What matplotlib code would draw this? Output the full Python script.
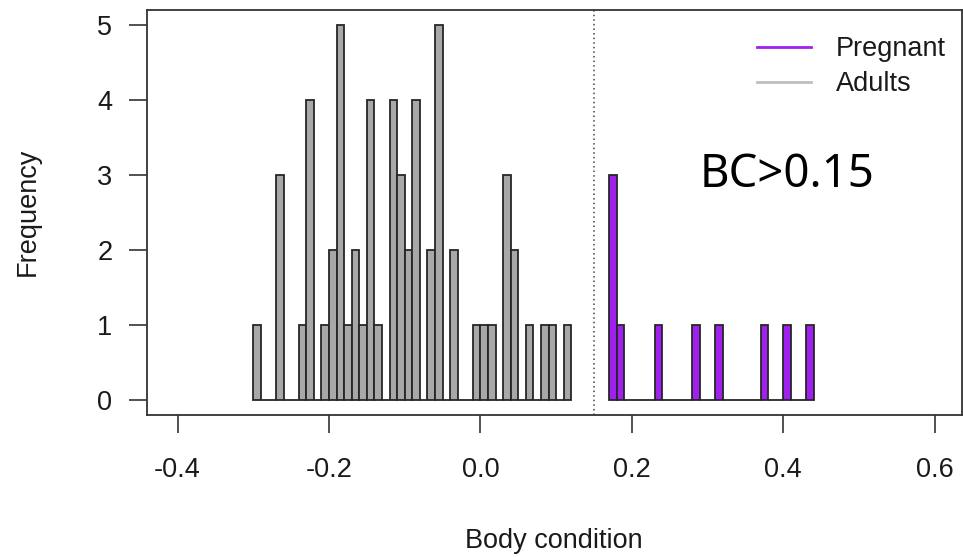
import numpy as np
import matplotlib
matplotlib.use("Agg")
import matplotlib.pyplot as plt
from matplotlib.lines import Line2D

# ---- data ----
bin_width = 0.01
adult_start = -0.30
adult_counts = [1, 0, 0, 3, 0, 0, 1, 4, 0, 1, 2, 5, 1, 2, 1, 4, 1, 0, 4, 3, 2,
                4, 0, 2, 5, 0, 2, 0, 0, 1, 1, 1, 0, 3, 2, 0, 1, 0, 1, 1, 0, 1]
preg_start = 0.17
preg_counts = [3, 1, 0, 0, 0, 0, 1, 0, 0, 0, 0, 1, 0, 0, 1, 0, 0, 0, 0, 0,
               1, 0, 0, 1, 0, 0, 1]
threshold = 0.15
x_ticks = [-0.4, -0.2, 0.0, 0.2, 0.4, 0.6]
x_tick_labels = ["-0.4", "-0.2", "0.0", "0.2", "0.4", "0.6"]
y_ticks = [0, 1, 2, 3, 4, 5]
legend_labels = ["Pregnant", "Adults"]
annotation = "BC>0.15"

W, H = 963, 557
fig = plt.figure(figsize=(W / 100, H / 100), dpi=100)
L, R, T, B = 147, 962, 10, 415
ax = fig.add_axes([L / W, 1 - B / H, (R - L) / W, (B - T) / H])

font = "Liberation Sans"
fs = 19.5
purple = "#A020F0"
grey_fill = "#A8A8A8"
edge = "#262626"
txt = "#1a1a1a"

adult_left = adult_start + bin_width * np.arange(len(adult_counts))
preg_left = preg_start + bin_width * np.arange(len(preg_counts))

ax.bar(adult_left, adult_counts, width=bin_width, align="edge",
       color=grey_fill, edgecolor=edge, linewidth=1.3)
ax.bar(preg_left, preg_counts, width=bin_width, align="edge",
       color=purple, edgecolor=edge, linewidth=1.3)

ax.axvline(threshold, color="#444444", linestyle=(0, (1, 2)), linewidth=1.1)

ax.set_xlim(-0.4404, 0.636)
ax.set_ylim(-0.2, 5.2)

ax.set_xticks(x_ticks)
ax.set_xticklabels(x_tick_labels, fontsize=fs, family=font, color=txt)
ax.set_yticks(y_ticks)
ax.set_yticklabels([str(v) for v in y_ticks], fontsize=fs, family=font,
                   color=txt)
ax.tick_params(axis="x", length=13, width=1.2, color="#333333", pad=17.5)
ax.tick_params(axis="y", length=13, width=1.2, color="#333333", pad=12)
for s in ax.spines.values():
    s.set_color("#333333")
    s.set_linewidth(1.3)

fig.text(28 / W, 1 - 212 / H, "Frequency", rotation=90, ha="center",
         va="center", fontsize=fs, family=font, color=txt)
fig.text(554 / W, 1 - 541 / H, "Body condition", ha="center", va="center",
         fontsize=fs, family=font, color=txt)

fig.text(700 / W, 1 - 187 / H, annotation, ha="left", va="baseline",
         fontsize=32.8, family="Noto Sans", color="black")

handles = [Line2D([0], [0], color=purple, lw=2),
           Line2D([0], [0], color="#BEBEBE", lw=2)]
leg = ax.legend(handles, legend_labels, loc="upper left",
                bbox_to_anchor=((757 - L) / (R - L), (B - 36) / (B - T)),
                frameon=False, prop={"family": font, "size": fs},
                handlelength=2.0, handletextpad=0.9, labelspacing=0.35,
                borderpad=0, borderaxespad=0)
for t in leg.get_texts():
    t.set_color(txt)

fig.savefig("out.png", dpi=100)
